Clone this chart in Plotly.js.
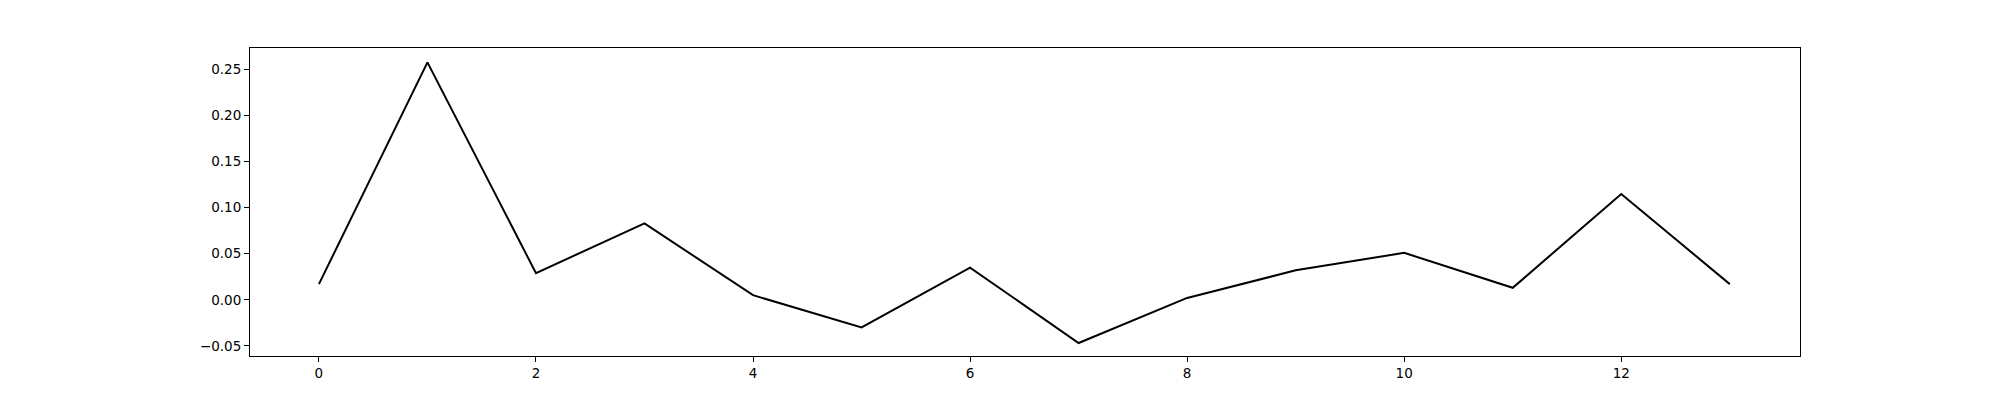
<!DOCTYPE html>
<html><head><script src="https://cdn.plot.ly/plotly-3.0.1.min.js"></script>
<style>body{margin:0}</style></head><body>
<div id="c" style="width:2000px;height:400px"></div>
<script>
const xs = [0,1,2,3,4,5,6,7,8,9,10,11,12,13];
const ys = [0.017,0.258,0.029,0.083,0.005,-0.030,0.035,-0.047,0.002,0.032,0.051,0.013,0.115,0.017];
const font = {family:'DejaVu Sans', size:13.5, color:'#000'};
const ax = {showgrid:false, zeroline:false, showline:true, mirror:true, linecolor:'#000', linewidth:1,
  ticks:'outside', ticklen:5, tickcolor:'#000', tickfont:font};
Plotly.newPlot('c', [{x:xs, y:ys, type:'scatter', mode:'lines', line:{color:'#000', width:2}}], {
  width:2000, height:400, margin:{l:250, r:200, t:48, b:44},
  paper_bgcolor:'#fff', plot_bgcolor:'#fff', showlegend:false,
  xaxis:Object.assign({}, ax, {range:[-0.635,13.647], tickvals:[0,2,4,6,8,10,12]}),
  yaxis:Object.assign({}, ax, {range:[-0.0611,0.2736], tickvals:[-0.05,0,0.05,0.1,0.15,0.2,0.25], tickformat:'.2f'})
}, {staticPlot:true});
</script></body></html>
